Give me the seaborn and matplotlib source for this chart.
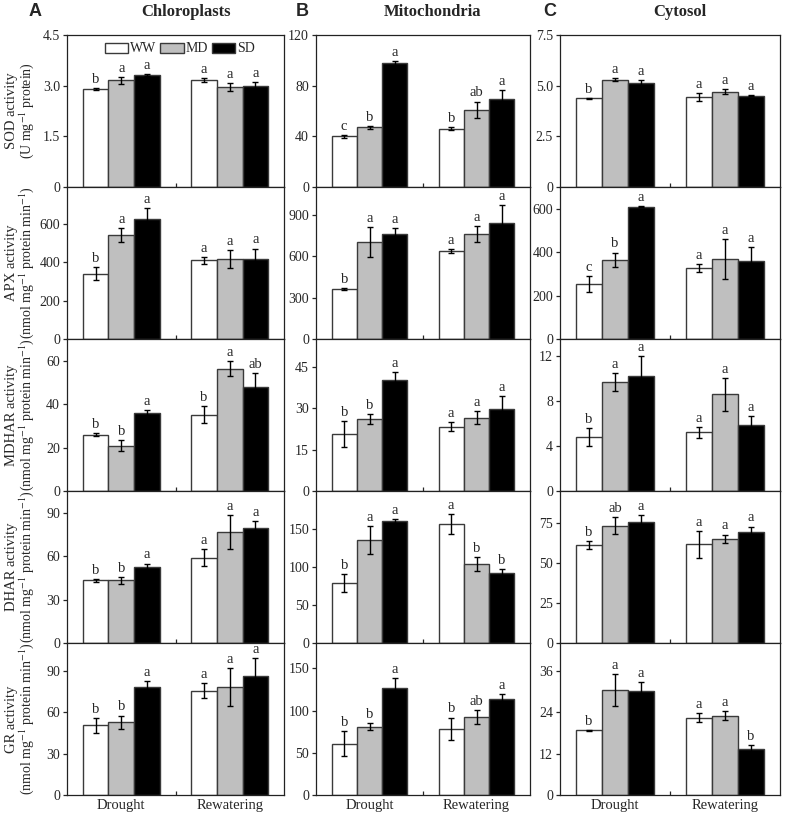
import numpy as np
import pandas as pd
import matplotlib
matplotlib.use("Agg")
import matplotlib.pyplot as plt
import seaborn as sns

# categories
groups = ["Drought", "Rewatering"]
treatments = ["WW", "MD", "SD"]
compartments = ["Chloroplasts", "Mitochondria", "Cytosol"]
panel_letters = ["A", "B", "C"]
enzymes = ["SOD", "APX", "MDHAR", "DHAR", "GR"]

# values, order: Drought WW, MD, SD, Rewatering WW, MD, SD
sod_chl = [2.89, 3.16, 3.32, 3.16, 2.96, 2.98]
sod_chl_err = [0.03, 0.10, 0.03, 0.06, 0.12, 0.12]
sod_chl_sig = ["b", "a", "a", "a", "a", "a"]
sod_mit = [40.0, 47.2, 97.6, 45.9, 60.9, 69.5]
sod_mit_err = [1.0, 1.2, 2.0, 1.2, 6.6, 7.0]
sod_mit_sig = ["c", "b", "a", "b", "ab", "a"]
sod_cyt = [4.37, 5.29, 5.11, 4.42, 4.70, 4.50]
sod_cyt_err = [0.03, 0.08, 0.15, 0.20, 0.12, 0.02]
sod_cyt_sig = ["b", "a", "a", "a", "a", "a"]

apx_chl = [340, 541, 624, 409, 416, 417]
apx_chl_err = [33, 35, 57, 17, 48, 53]
apx_chl_sig = ["b", "a", "a", "a", "a", "a"]
apx_mit = [363, 700, 763, 637, 760, 840]
apx_mit_err = [8, 107, 41, 15, 58, 128]
apx_mit_sig = ["b", "a", "a", "a", "a", "a"]
apx_cyt = [255, 365, 609, 327, 368, 359]
apx_cyt_err = [37, 33, 3, 17, 91, 63]
apx_cyt_sig = ["c", "b", "a", "a", "a", "a"]

mdhar_chl = [26.0, 20.9, 35.7, 35.2, 56.3, 48.0]
mdhar_chl_err = [0.5, 2.5, 1.4, 4.0, 3.5, 6.3]
mdhar_chl_sig = ["b", "b", "a", "b", "a", "ab"]
mdhar_mit = [20.7, 26.1, 40.1, 23.3, 26.5, 29.6]
mdhar_mit_err = [4.6, 1.8, 3.0, 1.7, 2.3, 4.6]
mdhar_mit_sig = ["b", "b", "a", "a", "a", "a"]
mdhar_cyt = [4.8, 9.67, 10.2, 5.2, 8.6, 5.83]
mdhar_cyt_err = [0.8, 0.8, 1.8, 0.5, 1.46, 0.85]
mdhar_cyt_sig = ["b", "a", "a", "a", "a", "a"]

dhar_chl = [43.4, 43.4, 52.4, 59.0, 76.4, 79.6]
dhar_chl_err = [1.0, 2.3, 2.5, 6.0, 11.8, 4.6]
dhar_chl_sig = ["b", "b", "a", "a", "a", "a"]
dhar_mit = [79.2, 135.6, 160.0, 156.6, 103.7, 91.9]
dhar_mit_err = [11.8, 18.4, 3.0, 12.7, 9.5, 6.0]
dhar_mit_sig = ["b", "a", "a", "a", "b", "b"]
dhar_cyt = [61.2, 73.4, 75.9, 61.8, 65.0, 69.4]
dhar_cyt_err = [2.5, 5.2, 4.3, 8.4, 2.8, 3.4]
dhar_cyt_sig = ["b", "ab", "a", "a", "a", "a"]

gr_chl = [50.5, 52.5, 78.2, 75.6, 78.2, 85.9]
gr_chl_err = [5.3, 5.0, 4.0, 5.5, 13.7, 13.2]
gr_chl_sig = ["b", "b", "a", "a", "a", "a"]
gr_mit = [60.6, 81.0, 126.8, 78.7, 92.5, 113.4]
gr_mit_err = [15.0, 4.5, 11.8, 13.0, 8.5, 6.0]
gr_mit_sig = ["b", "b", "a", "b", "ab", "a"]
gr_cyt = [18.7, 30.5, 30.1, 22.3, 23.0, 13.2]
gr_cyt_err = [0.2, 4.6, 2.6, 1.3, 1.3, 1.2]
gr_cyt_sig = ["b", "a", "a", "a", "a", "b"]

y_label_top = ["SOD activity", "APX activity", "MDHAR activity", "DHAR activity", "GR activity"]
y_label_unit = [
    "(U mg$^{-1}$ protein)",
    "(nmol mg$^{-1}$ protein min$^{-1}$)",
    "(nmol mg$^{-1}$ protein min$^{-1}$)",
    "(nmol mg$^{-1}$ protein min$^{-1}$)",
    "(nmol mg$^{-1}$ protein min$^{-1}$)",
]

panels = [
    [(sod_chl, sod_chl_err, sod_chl_sig), (sod_mit, sod_mit_err, sod_mit_sig), (sod_cyt, sod_cyt_err, sod_cyt_sig)],
    [(apx_chl, apx_chl_err, apx_chl_sig), (apx_mit, apx_mit_err, apx_mit_sig), (apx_cyt, apx_cyt_err, apx_cyt_sig)],
    [(mdhar_chl, mdhar_chl_err, mdhar_chl_sig), (mdhar_mit, mdhar_mit_err, mdhar_mit_sig), (mdhar_cyt, mdhar_cyt_err, mdhar_cyt_sig)],
    [(dhar_chl, dhar_chl_err, dhar_chl_sig), (dhar_mit, dhar_mit_err, dhar_mit_sig), (dhar_cyt, dhar_cyt_err, dhar_cyt_sig)],
    [(gr_chl, gr_chl_err, gr_chl_sig), (gr_mit, gr_mit_err, gr_mit_sig), (gr_cyt, gr_cyt_err, gr_cyt_sig)],
]

# axis limits and ticks per panel (row, col)
y_max = [[4.5, 120, 7.5], [790, 1100, 700], [70, 55, 13.5], [105, 200, 95], [110, 180, 44]]
y_ticks = [
    [[0, 1.5, 3.0, 4.5], [0, 40, 80, 120], [0, 2.5, 5.0, 7.5]],
    [[0, 200, 400, 600], [0, 300, 600, 900], [0, 200, 400, 600]],
    [[0, 20, 40, 60], [0, 15, 30, 45], [0, 4, 8, 12]],
    [[0, 30, 60, 90], [0, 50, 100, 150], [0, 25, 50, 75]],
    [[0, 30, 60, 90], [0, 50, 100, 150], [0, 12, 24, 36]],
]
tick_fmt = [["{:.1f}", "{:g}", "{:.1f}"]] + [["{:g}"] * 3] * 4

sns.set_style("ticks")
plt.rcParams["font.family"] = ["Liberation Serif", "DejaVu Serif"]
plt.rcParams["mathtext.fontset"] = "stix"
plt.rcParams["font.size"] = 10

colors = {"WW": "white", "MD": "#bfbfbf", "SD": "black"}

fig = plt.figure(figsize=(7.87, 8.15), dpi=100)
W, H = 787.0, 815.0
col_left = [67, 316, 560]
col_width = [217, 214, 220]
top, row_h = 35, 152


def draw_panel(ax, mean, err, sig, show_legend):
    df = pd.DataFrame({"group": np.repeat(groups, 3),
                       "treatment": treatments * 2,
                       "value": mean})
    sns.barplot(data=df, x="group", y="value", hue="treatment", hue_order=treatments,
                order=groups, palette=colors, saturation=1, width=0.71, gap=0,
                edgecolor="#3a3a3a", linewidth=1, errorbar=None, legend=False, ax=ax)
    bar_sets = list(ax.containers)
    for i, cont in enumerate(bar_sets):
        for j, bar in enumerate(cont):
            k = j * 3 + i
            x = bar.get_x() + bar.get_width() / 2
            h = bar.get_height()
            ax.errorbar(x, h, yerr=err[k], color="black", elinewidth=1,
                        capsize=2.2, capthick=1, zorder=5)
            ax.annotate(sig[k], (x, h + err[k]), xytext=(0, 1.5),
                        textcoords="offset points", ha="center", va="bottom",
                        fontsize=10.5)
    if show_legend:
        ax.legend(handles=bar_sets, labels=treatments, ncol=3,
                  loc="upper center", bbox_to_anchor=(0.52, 1.015), frameon=False,
                  handlelength=1.7, handleheight=0.75, handletextpad=0.15,
                  columnspacing=0.25, borderpad=0.2, fontsize=10)


for r in range(5):
    for c in range(3):
        bottom = H - (top + (r + 1) * row_h)
        ax = fig.add_axes([col_left[c] / W, bottom / H, col_width[c] / W, row_h / H])
        mean, err, sig = panels[r][c]
        draw_panel(ax, mean, err, sig, show_legend=(r == 0 and c == 0))
        ax.set_xlim(-0.5, 1.5)
        ax.set_ylim(0, y_max[r][c])
        ax.set_yticks(y_ticks[r][c])
        ax.set_yticklabels(["0" if t == 0 else tick_fmt[r][c].format(t) for t in y_ticks[r][c]])
        ax.tick_params(axis="y", direction="out", length=3, width=0.9, labelsize=10, pad=2)
        ax.tick_params(axis="x", length=0, labelsize=10.5, pad=3)
        ax.set_xticks([0.5], minor=True)
        ax.tick_params(axis="x", which="minor", direction="in", length=3, width=0.9)
        for sp in ax.spines.values():
            sp.set_visible(True)
            sp.set_linewidth(0.9)
            sp.set_color("#222222")
        ax.set_xlabel("")
        ax.set_ylabel("")
        if r < 4:
            ax.set_xticklabels([])
        if c == 0:
            ymid = (bottom + row_h / 2) / H
            fig.text(12 / W, ymid, y_label_top[r], rotation=90, ha="center", va="center",
                     fontsize=10.5)
            fig.text(27 / W, ymid, y_label_unit[r], rotation=90, ha="center", va="center",
                     fontsize=10)
        if r == 0:
            cx = (col_left[c] + col_width[c] / 2 + 10) / W
            fig.text(cx, 1 - 12 / H, compartments[c], ha="center", va="center",
                     fontsize=12, fontweight="bold")
            lx = [35, 302, 550][c] / W
            fig.text(lx, 1 - 12 / H, panel_letters[c], ha="center", va="center",
                     fontsize=13, fontweight="bold", family=["Liberation Sans", "DejaVu Sans"])

fig.savefig("out.png", dpi=100)
